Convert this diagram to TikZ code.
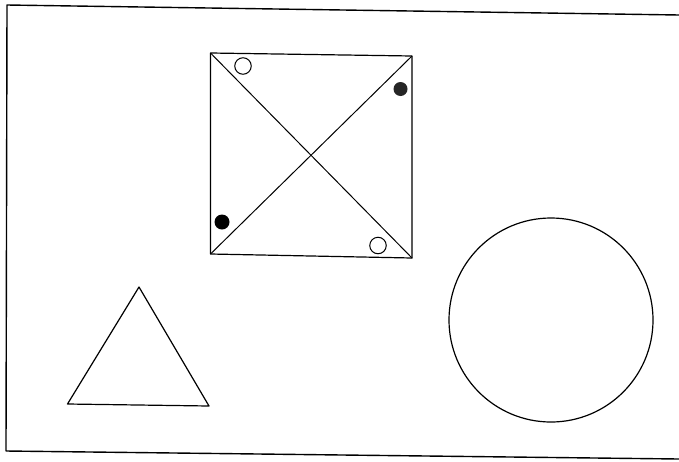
\documentclass[tikz,border=0pt]{standalone}
\begin{document}
\begin{tikzpicture}[x=1pt,y=-1pt,
  ink/.style={draw=black,line width=1.2pt,line join=round},
  thin ink/.style={draw=black,line width=1pt},
  dot/.style={circle,inner sep=0pt,minimum size=14pt}]
\useasboundingbox (0,0) rectangle (679,461);
% frame (runs off the right edge)
\draw[ink,line width=1.4pt] (679,15) -- (7,5) -- (6,451) -- (679,459);
% square with diagonals
\coordinate (tl) at (210.5,53);
\coordinate (tr) at (412,56);
\coordinate (br) at (412,258);
\coordinate (bl) at (210.5,254);
\draw[ink] (tl) -- (tr) -- (br) -- (bl) -- cycle;
\draw[thin ink] (tl) -- (br);
\draw[thin ink] (bl) -- (tr);
% small circles
\node[dot,draw,line width=1pt,minimum size=16.5pt] (o1) at (243,66) {};
\node[dot,draw,line width=1pt,minimum size=16.5pt] (o2) at (378,245.5) {};
\node[dot,fill=black!85,minimum size=14pt] (f1) at (400.5,89) {};
\node[dot,fill=black,minimum size=15pt] (f2) at (222,222) {};
% triangle
\draw[ink] (139,287) -- (209,406) -- (67.5,404) -- cycle;
% big circle
\draw[ink] (551,320) circle[radius=102];
\end{tikzpicture}
\end{document}
